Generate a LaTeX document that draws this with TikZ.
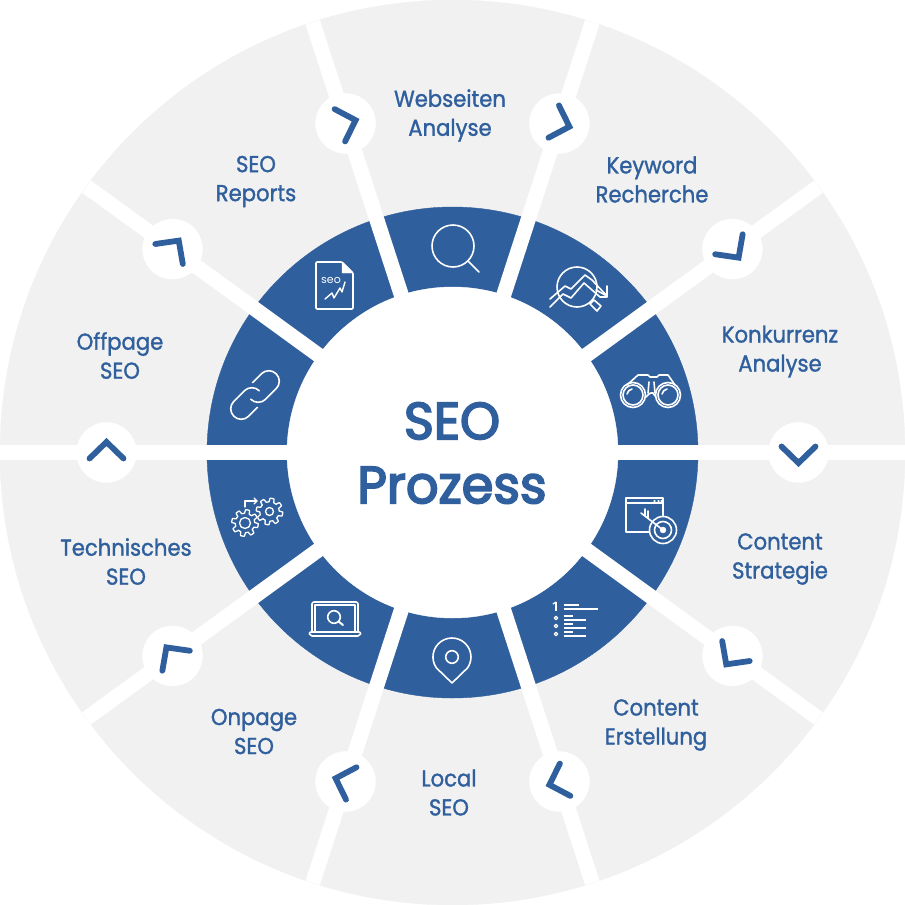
\documentclass[tikz,border=0pt]{standalone}
\usepackage{fontspec}
\setmainfont{Poppins}[FakeStretch=0.92,FakeBold=1.3]
\newfontfamily\seotitle{Poppins}[FakeStretch=0.98,FakeBold=3.5]
\newfontfamily\seosmall{Poppins}
\definecolor{seoblue}{HTML}{2F5F9C}
\definecolor{seogray}{HTML}{F1F1F1}
\tikzset{
    spoke/.style={white, line width=15pt},
    hubdot/.style={white},
    chevron/.style={seoblue, line width=5.8pt, line cap=round, line join=miter},
    seotext/.style={seoblue, align=center, inner sep=0pt, font=\fontsize{23}{29}\selectfont},
    icon/.style={white, line width=1.6pt, line join=round, line cap=round}
}

\begin{document}
\begin{tikzpicture}[x=1pt, y=-1pt]
    \useasboundingbox (0,0) rectangle (905,905);

    \filldraw[seogray] (452.5,452.5) circle (452.5pt);
    \filldraw[seoblue] (452.5,452.5) circle (245.5pt);

    % spokes
    \draw[spoke] (0,452.5) -- (905,452.5);
    \draw[spoke, rotate around={36:(452.5,452.5)}] (0,452.5) -- (905,452.5);
    \draw[spoke, rotate around={72:(452.5,452.5)}] (0,452.5) -- (905,452.5);
    \draw[spoke, rotate around={108:(452.5,452.5)}] (0,452.5) -- (905,452.5);
    \draw[spoke, rotate around={144:(452.5,452.5)}] (0,452.5) -- (905,452.5);
    \filldraw[white] (452.5,452.5) circle (165.5pt);

    % hubs
    \filldraw[hubdot] (798.5,452.5) circle (30pt);
    \filldraw[hubdot, rotate around={36:(452.5,452.5)}] (798.5,452.5) circle (30pt);
    \filldraw[hubdot, rotate around={72:(452.5,452.5)}] (798.5,452.5) circle (30pt);
    \filldraw[hubdot, rotate around={108:(452.5,452.5)}] (798.5,452.5) circle (30pt);
    \filldraw[hubdot, rotate around={144:(452.5,452.5)}] (798.5,452.5) circle (30pt);
    \filldraw[hubdot, rotate around={180:(452.5,452.5)}] (798.5,452.5) circle (30pt);
    \filldraw[hubdot, rotate around={216:(452.5,452.5)}] (798.5,452.5) circle (30pt);
    \filldraw[hubdot, rotate around={252:(452.5,452.5)}] (798.5,452.5) circle (30pt);
    \filldraw[hubdot, rotate around={288:(452.5,452.5)}] (798.5,452.5) circle (30pt);
    \filldraw[hubdot, rotate around={324:(452.5,452.5)}] (798.5,452.5) circle (30pt);

    % chevrons
    \draw[chevron] (781.5,446.5) -- (798.5,463) -- (815.5,446.5);
    \draw[chevron, rotate around={36:(452.5,452.5)}] (781.5,446.5) -- (798.5,463) -- (815.5,446.5);
    \draw[chevron, rotate around={72:(452.5,452.5)}] (781.5,446.5) -- (798.5,463) -- (815.5,446.5);
    \draw[chevron, rotate around={108:(452.5,452.5)}] (781.5,446.5) -- (798.5,463) -- (815.5,446.5);
    \draw[chevron, rotate around={144:(452.5,452.5)}] (781.5,446.5) -- (798.5,463) -- (815.5,446.5);
    \draw[chevron, rotate around={180:(452.5,452.5)}] (781.5,446.5) -- (798.5,463) -- (815.5,446.5);
    \draw[chevron, rotate around={216:(452.5,452.5)}] (781.5,446.5) -- (798.5,463) -- (815.5,446.5);
    \draw[chevron, rotate around={252:(452.5,452.5)}] (781.5,446.5) -- (798.5,463) -- (815.5,446.5);
    \draw[chevron, rotate around={288:(452.5,452.5)}] (781.5,446.5) -- (798.5,463) -- (815.5,446.5);
    \draw[chevron, rotate around={324:(452.5,452.5)}] (781.5,446.5) -- (798.5,463) -- (815.5,446.5);

    % texts
    \node[seotext] (webseiten) at (450,115.5) {Webseiten\\Analyse};
    \node[seotext] (keyword) at (652,179.5) {Keyword\\Recherche};
    \node[seotext] (konkurrenz) at (780,351.5) {Konkurrenz\\Analyse};
    \node[seotext] (strategie) at (780,559) {Content\\Strategie};
    \node[seotext] (erstellung) at (656,725) {Content\\Erstellung};
    \node[seotext] (local) at (449,792.5) {Local\\SEO};
    \node[seotext] (onpage) at (254,731.5) {Onpage\\SEO};
    \node[seotext] (technisches) at (126,561.5) {Technisches\\SEO};
    \node[seotext] (offpage) at (120,355.5) {Offpage\\SEO};
    \node[seotext] (reports) at (256,181.5) {SEO\\Reports};
    \node[seotext, font=\fontsize{52}{64}\selectfont\seotitle] (center) at (452,453) {SEO\\Prozess};

    % magnifier
    \draw[icon] (453,246) circle (21pt);
    \draw[icon] (468,261) -- (479,272);

    % chart
    \draw[icon] (577,287) circle (20pt);
    \draw[icon] (550,299) -- (565,286) -- (571,289) -- (585,275) -- (592,280) -- (607,296);
    \draw[icon] (550,307) -- (563,294) -- (571,298) -- (584,283) -- (600,297) -- (607,297) -- (607,286);
    \draw[icon] (596,290) -- (607,296);
    \draw[icon] (590,304) -- (594,300) -- (601,306) -- (597,311) -- cycle;

    % binoculars
    \draw[icon] (633,395) circle (12.5pt);
    \draw[icon] (633,395) circle (10pt);
    \draw[icon] (668,395) circle (12.5pt);
    \draw[icon] (668,395) circle (10pt);
    \draw[icon] (627,385) -- (638,375) -- (648,375) -- (650,377) -- (657,377) -- (659,375) -- (668,375) -- (675,385);
    \draw[icon] (646,397) -- (649,394) -- (651,393) -- (653,393) -- (655,396);
    \draw[icon] (648,393) -- (649,382);
    \draw[icon] (655,393) -- (654,382);
    \draw[icon] (627,394) to[bend left=30] (632,389);
    \draw[icon] (662,394) to[bend left=30] (667,389);

    % window with target
    \draw[icon] (663,532) -- (626,532) -- (626,498) -- (663,498) -- (663,516);
    \draw[icon] (626,503) -- (663,503);
    \draw[icon, line width=1.2pt] (654,501) -- (655,501);
    \draw[icon, line width=1.2pt] (658,501) -- (659,501);
    \draw[icon, line width=1.2pt] (661,501) -- (662,501);
    \filldraw[seoblue] (663,530) circle (14pt);
    \draw[icon] (663,530) circle (13.5pt);
    \draw[icon] (663,530) circle (8.5pt);
    \filldraw[white] (663,530) circle (3pt);
    \draw[icon] (641,513) -- (663,530);
    \draw[icon] (648,511) -- (648,518);
    \draw[icon] (645,509) -- (645,516);

    % list
    \draw[icon, line width=2pt, line cap=butt] (556,602) -- (556,611);
    \draw[icon, line width=1.2pt] (553,604) -- (556,602);
    \draw[icon, line cap=butt, line width=1.4pt] (564,605) -- (579,605);
    \draw[icon, line cap=butt, line width=1.4pt] (564,609) -- (598,609);
    \draw[icon, line width=1.2pt] (556,618) circle (1.8pt);
    \draw[icon, line width=1.2pt] (556,626) circle (1.8pt);
    \draw[icon, line width=1.2pt] (556,634) circle (1.8pt);
    \draw[icon, line cap=butt, line width=1.4pt] (564,616) -- (573,616);
    \draw[icon, line cap=butt, line width=1.4pt] (564,620) -- (586,620);
    \draw[icon, line cap=butt, line width=1.4pt] (564,624) -- (573,624);
    \draw[icon, line cap=butt, line width=1.4pt] (564,628) -- (586,628);
    \draw[icon, line cap=butt, line width=1.4pt] (564,632) -- (573,632);
    \draw[icon, line cap=butt, line width=1.4pt] (564,636) -- (586,636);

    % pin
    \draw[icon] (452,683) -- (436.4,667.9) arc (215:-35:19pt) -- cycle;
    \draw[icon] (452,657) circle (6.3pt);

    % laptop
    \draw[icon, rounded corners=2pt] (312,632) -- (312,602) -- (358,602) -- (358,632);
    \draw[icon] (315,632) -- (315,605) -- (355,605) -- (355,632);
    \draw[icon, rounded corners=2pt] (309,632) -- (361,632) -- (360,636) -- (310,636) -- cycle;
    \draw[icon] (334,617) circle (6.3pt);
    \draw[icon, line width=2pt] (338.5,621.5) -- (343,625);

    % gears
    \draw[icon, line width=1.3pt] plot[domain=0:360, samples=129] ({245+(11.5+1.8*max(min(2.5*sin(8*\x),1),-1))*cos(\x)}, {523+(11.5+1.8*max(min(2.5*sin(8*\x),1),-1))*sin(\x)});
    \draw[icon, line width=1.3pt] (245,523) circle (5.5pt);
    \draw[icon, line width=1.3pt] plot[domain=0:360, samples=129] ({269.5+(11.5+1.8*max(min(2.5*sin(8*\x),1),-1))*cos(\x)}, {511.5+(11.5+1.8*max(min(2.5*sin(8*\x),1),-1))*sin(\x)});
    \draw[icon, line width=1.3pt] (269.5,511.5) circle (4pt);
    \draw[icon, line width=1.3pt] (245,507) -- (245,501) -- (257,501);
    \draw[icon, line width=1.3pt] (254,498) -- (257,501) -- (254,504);

    % report
    \draw[icon, rounded corners=1pt] (342,262) -- (316,262) -- (316,309) -- (353,309) -- (353,273) -- cycle;
    \filldraw[white] (342,262) -- (353,273) -- (342,273) -- cycle;
    \node[white, font=\fontsize{11}{11}\selectfont\seosmall, inner sep=0pt] (seoword) at (331,280) {seo};
    \draw[icon, line width=1.4pt] (325,299) -- (332,293) -- (334,298) -- (340,288) -- (342,292) -- (345,282);

    % link
    \draw[icon, rotate around={45:(255,395)}] (262,384.5) -- (274.5,384.5) arc (90:-90:10.5pt) -- (259.5,405.5) arc (270:180:10.5pt);
    \draw[icon, rotate around={45:(255,395)}] (248,405.5) -- (235.5,405.5) arc (270:90:10.5pt) -- (250.5,384.5) arc (90:0:10.5pt);
\end{tikzpicture}
\end{document}
